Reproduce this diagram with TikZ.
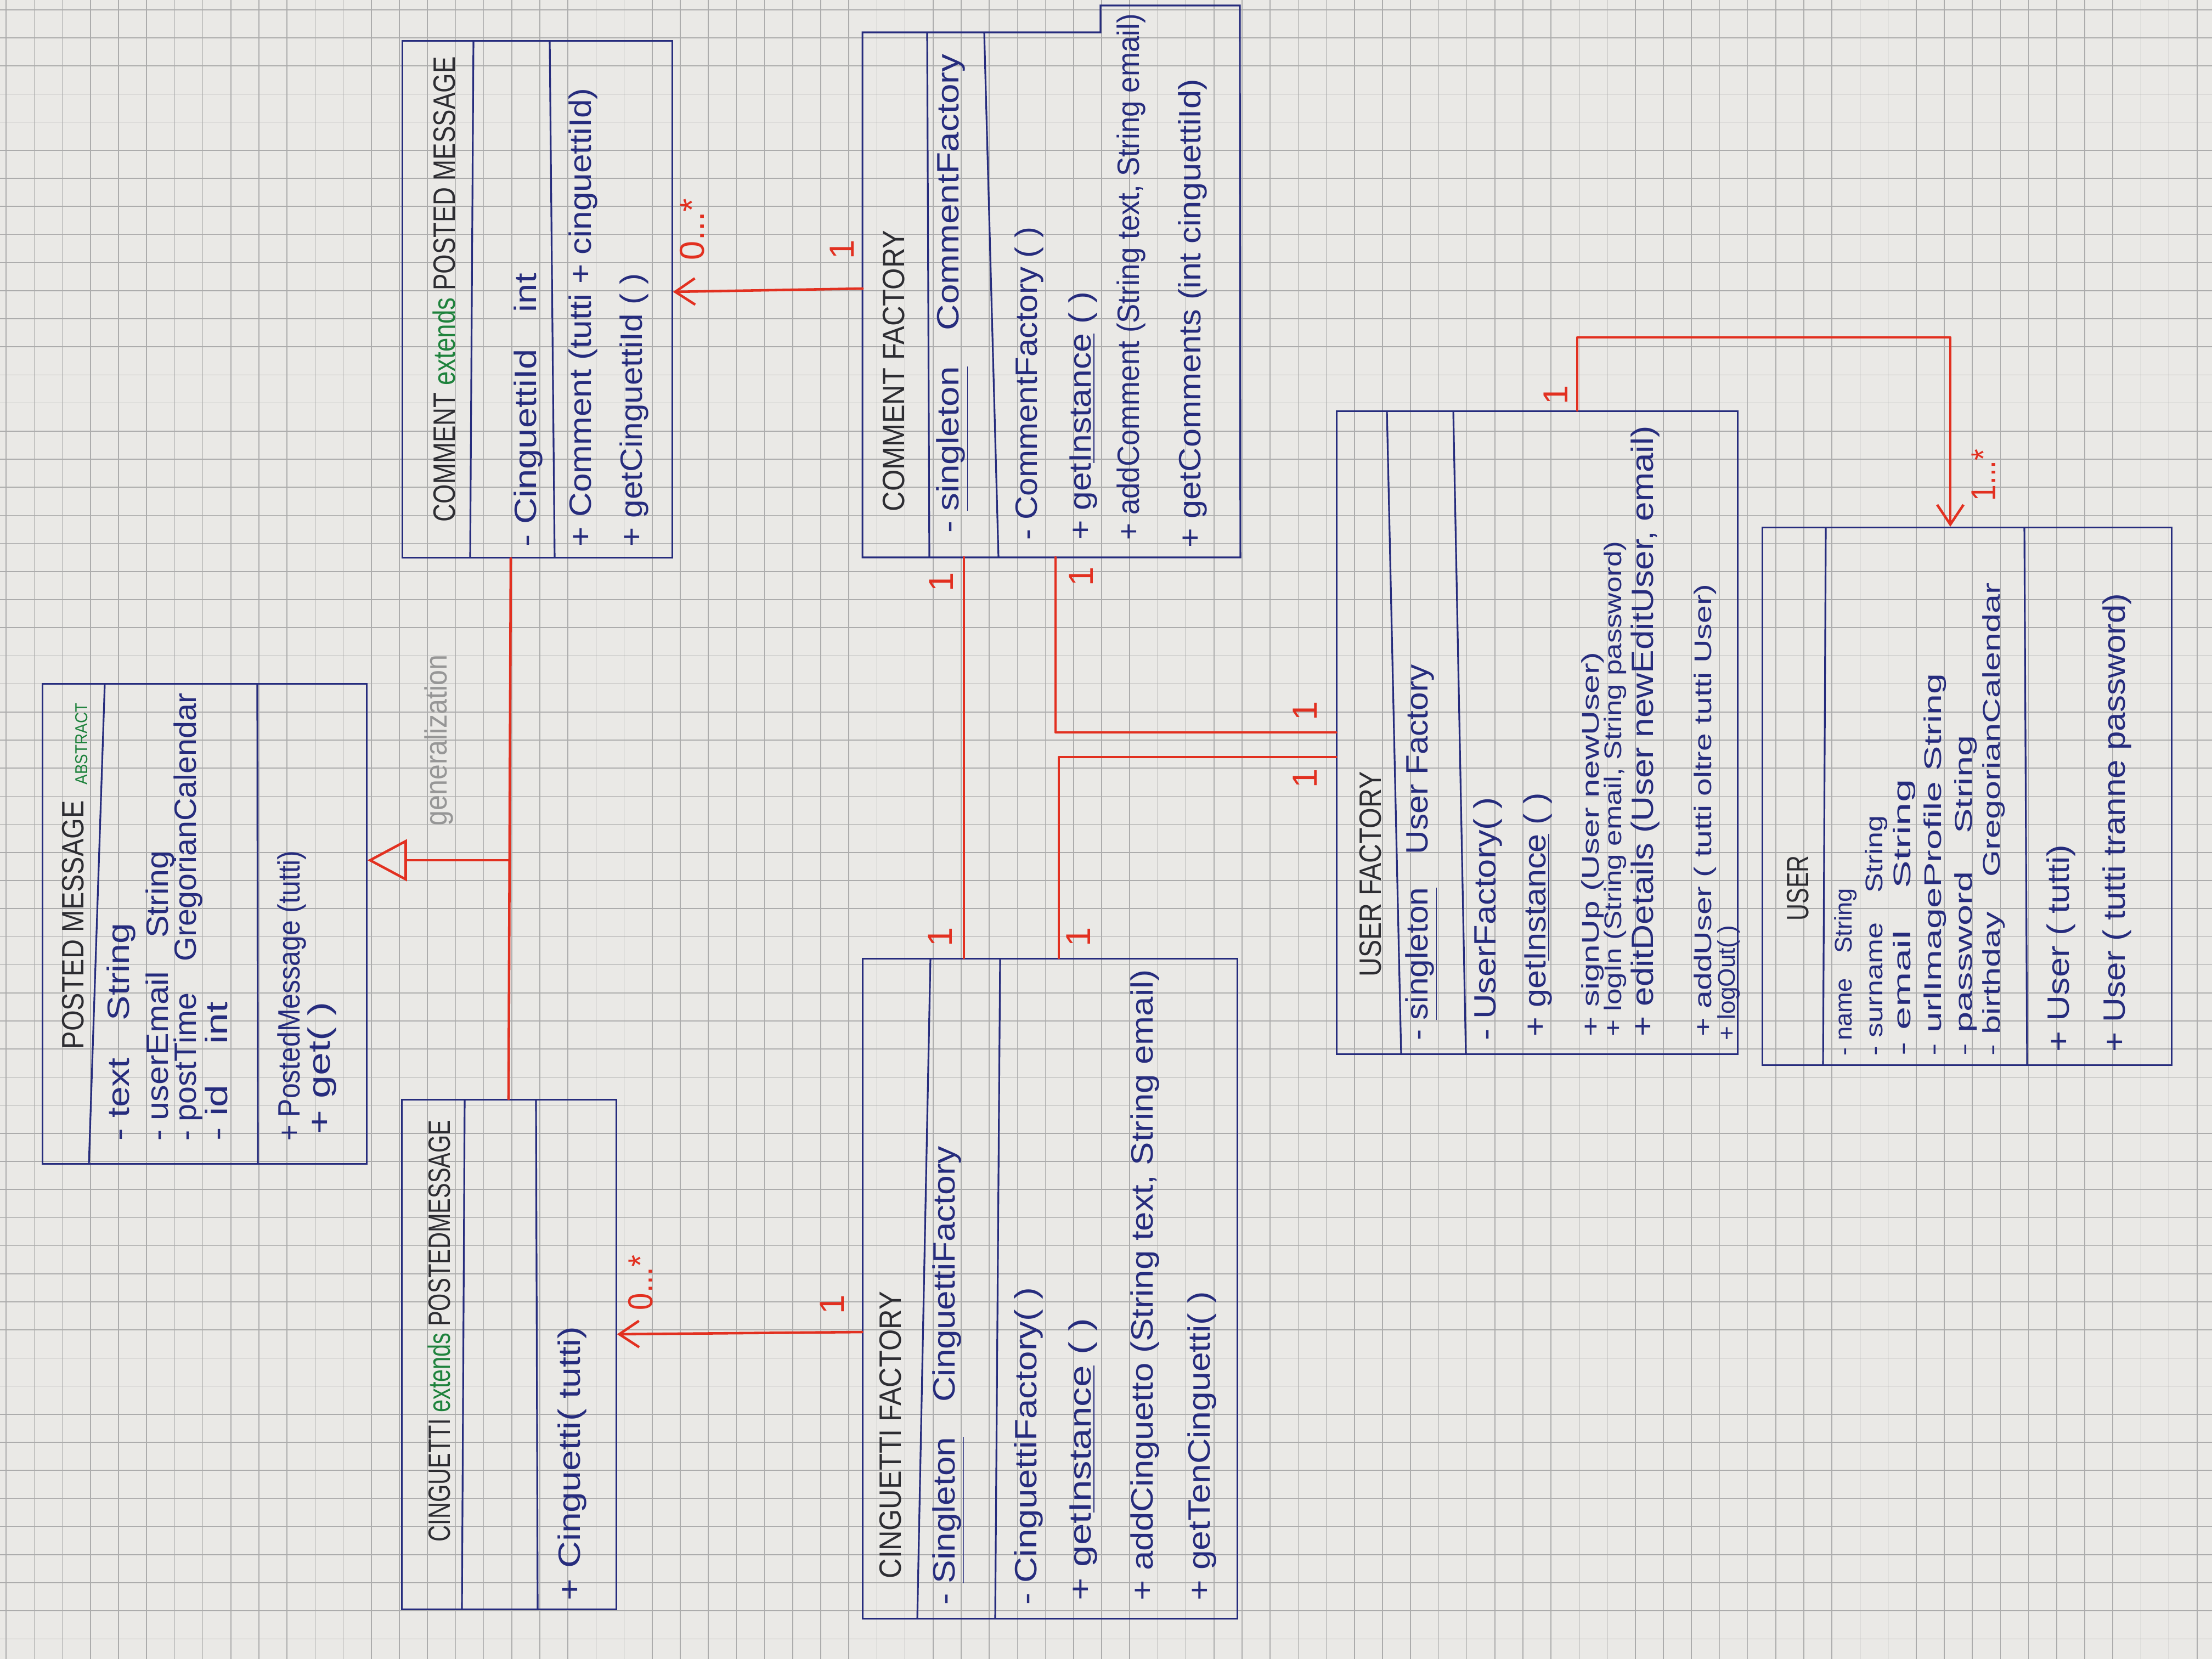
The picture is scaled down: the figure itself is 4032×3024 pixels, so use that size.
\documentclass[tikz,border=0pt]{standalone}
\usepackage{fontspec}
\setmainfont{Liberation Sans}
\usepackage{graphicx}
\usetikzlibrary{arrows.meta,calc}

\definecolor{paper}{RGB}{234,233,230}
\definecolor{gridc}{RGB}{172,172,172}
\definecolor{ink}{RGB}{38,44,125}
\definecolor{pen}{RGB}{45,45,50}
\definecolor{grn}{RGB}{30,130,60}
\definecolor{rd}{RGB}{226,48,32}
\definecolor{pencil}{RGB}{150,150,150}

% one drawing unit = 0.01cm; texts are stretched to a given length
\newlength\pxu \setlength\pxu{0.01cm}
\newcommand{\hw}[2]{\resizebox{#1\pxu}{\height}{#2}}

\tikzset{
  gridline/.style={draw=gridc, line width=0.45pt},
  classbox/.style={draw=ink, line width=0.9pt, inner sep=0pt, rectangle},
  divider/.style={draw=ink, line width=0.9pt},
  rl/.style={draw=rd, line width=1.3pt, line cap=round, line join=round},
  tx/.style={rotate=90, anchor=west, inner sep=0pt, text=ink, font=\fontsize{16}{18}\selectfont},
  txs/.style={tx, font=\fontsize{12.5}{14}\selectfont},
  hd/.style={rotate=90, anchor=west, inner sep=0pt, text=pen, font=\fontsize{16}{18}\selectfont},
  ml/.style={rotate=90, inner sep=0pt, text=rd, font=\fontsize{18}{20}\selectfont},
  barb/.style={-{Straight Barb[length=3.6mm,width=4.8mm]}},
}

\begin{document}
\begin{tikzpicture}[x=0.01cm, y=-0.01cm]
\useasboundingbox (0,0) rectangle (4032,3024);
\fill[paper] (0,0) rectangle (4032,3024);

% squared paper
\begin{scope}
\clip (0,0) rectangle (4032,3024);
\foreach \i in {0,...,79} \draw[gridline] ({11.2+51.2*\i},0) -- ({11.2+51.2*\i},3024);
\foreach \j in {0,...,59} \draw[gridline] (0,{17.8+51.2*\j}) -- (4032,{17.8+51.2*\j});
\end{scope}

% ---------- class boxes ----------
\node[classbox, minimum width=5.90cm, minimum height=8.74cm] (pm) at (373,1684) {};
\node[classbox, minimum width=3.90cm, minimum height=9.28cm] (cin) at (928,2469) {};
\node[classbox, minimum width=4.91cm, minimum height=9.41cm] (com) at (979.5,545.5) {};
\node[rectangle, inner sep=0pt, minimum width=6.87cm, minimum height=9.55cm] (cf) at (1916.5,537.5) {};
\node[classbox, minimum width=6.82cm, minimum height=12.02cm] (cgf) at (1914,2349) {};
\node[classbox, minimum width=7.30cm, minimum height=11.71cm] (uf) at (2802,1335.5) {};
\node[classbox, minimum width=7.45cm, minimum height=9.79cm] (user) at (3585.5,1451.5) {};

% comment factory outline, raised over its last column
\draw[divider] (cf.north west) -- (cf.north -| 2006,0) -- (2006,10) -- (2260,10)
  -- (cf.south east) -- (cf.south west) -- cycle;

% compartments
\draw[divider] (pm.north -| 191,0) -- (pm.south -| 162,0);
\draw[divider] (pm.north -| 469,0) -- (pm.south -| 470,0);
\draw[divider] (cin.north -| 847,0) -- (cin.south -| 842,0);
\draw[divider] (cin.north -| 977,0) -- (cin.south -| 980,0);
\draw[divider] (com.north -| 863,0) -- (com.south -| 857,0);
\draw[divider] (com.north -| 1002,0) -- (com.south -| 1011,0);
\draw[divider] (cf.north -| 1690,0) -- (cf.south -| 1694,0);
\draw[divider] (cf.north -| 1794,0) -- (cf.south -| 1820,0);
\draw[divider] (cgf.north -| 1696,0) -- (cgf.south -| 1672,0);
\draw[divider] (cgf.north -| 1823,0) -- (cgf.south -| 1814,0);
\draw[divider] (uf.north -| 2528,0) -- (uf.south -| 2554,0);
\draw[divider] (uf.north -| 2649,0) -- (uf.south -| 2672,0);
\draw[divider] (user.north -| 3328,0) -- (user.south -| 3323,0);
\draw[divider] (user.north -| 3690,0) -- (user.south -| 3695,0);

% ---------- PostedMessage ----------
\node[hd] (pmT) at (133,1913) {\hw{453}{POSTED MESSAGE}};
\node[hd, text=grn, font=\fontsize{9}{10}\selectfont] (pmAb) at (149,1431) {\hw{149}{ABSTRACT}};
\node[tx] (pmA1) at (221,2080) {\hw{397}{- text\quad String}};
\node[tx] (pmA2) at (292,2080) {\hw{529}{- userEmail\quad String}};
\node[tx] (pmA3) at (343,2080) {\hw{816}{- postTime\quad GregorianCalendar}};
\node[tx] (pmA4) at (394,2080) {\hw{253}{- id\quad int}};
\node[tx] (pmM1) at (532,2080) {\hw{529}{+ PostedMessage (tutti)}};
\node[tx] (pmM2) at (587,2068) {\hw{241}{+ get( )}};

% ---------- Cinguetti ----------
\node[hd] (cinT) at (800,2811) {\hw{769}{CINGUETTI \textcolor{grn}{extends} POSTEDMESSAGE}};
\node[tx] (cinM1) at (1043,2918) {\hw{500}{+ Cinguetti( tutti)}};

% ---------- Comment ----------
\node[hd] (comT) at (809,952) {\hw{848}{COMMENT \textcolor{grn}{extends} POSTED MESSAGE}};
\node[tx] (comA1) at (963,997) {\hw{498}{- CinguettiId\quad int}};
\node[tx] (comM1) at (1063,997) {\hw{836}{+ Comment (tutti + cinguettiId)}};
\node[tx] (comM2) at (1156,997) {\hw{498}{+ getCinguettiId ( )}};

% ---------- CommentFactory ----------
\node[hd] (cfT) at (1629,933) {\hw{513}{COMMENT FACTORY}};
\node[tx] (cfA1) at (1736,972) {\hw{873}{- \underline{singleton}\quad CommentFactory}};
\node[tx] (cfM1) at (1876,985) {\hw{571}{- CommentFactory ( )}};
\node[tx] (cfM2) at (1974,985) {\hw{453}{+ get\underline{Instance} ( )}};
\node[tx] (cfM3) at (2062,985) {\hw{959}{+ addComment (String text, String email)}};
\node[tx] (cfM4) at (2174,999) {\hw{854}{+ getComments (int cinguettiId)}};

% ---------- CinguettiFactory ----------
\node[hd] (cgfT) at (1623,2878) {\hw{523}{CINGUETTI FACTORY}};
\node[tx] (cgfA1) at (1729,2926) {\hw{836}{- \underline{Singleton}\quad CinguettiFactory}};
\node[tx] (cgfM1) at (1875,2926) {\hw{579}{- CinguettiFactory( )}};
\node[tx] (cgfM2) at (1974,2918) {\hw{515}{+ get\underline{Instance} ( )}};
\node[tx] (cgfM3) at (2087,2918) {\hw{1150}{+ addCinguetto (String text, String email)}};
\node[tx] (cgfM4) at (2191,2918) {\hw{563}{+ getTenCinguetti( )}};

% ---------- UserFactory ----------
\node[hd] (ufT) at (2498,1781) {\hw{374}{USER FACTORY}};
\node[tx] (ufA1) at (2591,1897) {\hw{685}{- \underline{singleton}\quad User Factory}};
\node[tx] (ufM1) at (2712,1897) {\hw{443}{- UserFactory( )}};
\node[tx] (ufM2) at (2803,1890) {\hw{444}{+ get\underline{Instance} ( )}};
\node[txs] (ufM3) at (2903,1890) {\hw{701}{+ signUp (User newUser)}};
\node[txs] (ufM4) at (2944,1890) {\hw{903}{+ logIn (String email, String password)}};
\node[tx] (ufM5) at (2999,1890) {\hw{1113}{+ editDetails (User newEditUser, email)}};
\node[txs] (ufM6) at (3108,1890) {\hw{825}{+ addUser ( tutti oltre tutti User)}};
\node[txs] (ufM7) at (3151,1897) {\hw{210}{+ logOut( )}};

% ---------- User ----------
\node[hd] (usT) at (3277,1679) {\hw{119}{USER}};
\node[txs] (usA1) at (3364,1925) {\hw{305}{- name\quad String}};
\node[txs] (usA2) at (3420,1925) {\hw{438}{- surname\quad String}};
\node[txs] (usA3) at (3471,1925) {\hw{504}{- email\quad String}};
\node[txs] (usA4) at (3527,1925) {\hw{697}{- urlImageProfile String}};
\node[txs] (usA5) at (3583,1925) {\hw{584}{- password\quad String}};
\node[txs] (usA6) at (3634,1925) {\hw{862}{- birthday\quad GregorianCalendar}};
\node[tx] (usM1) at (3757,1918) {\hw{378}{+ User ( tutti)}};
\node[tx] (usM2) at (3859,1918) {\hw{836}{+ User ( tutti tranne password)}};

% ---------- relations ----------
% generalization
\draw[rl] (com.south -| 931,0) -- (cin.north -| 927,0);
\coordinate (gj) at (929,1568);
\draw[rl, -{Triangle[open,length=7.2mm,width=7.6mm]}] (gj) -- (gj -| pm.east);
\node[tx, text=pencil] (genL) at (800,1506) {\hw{312}{generalization}};

% factories to products
\draw[rl, barb] (cf.west |- 0,526) -- (com.east |- 0,532);
\draw[rl, barb] (cgf.west |- 0,2428) -- (cin.east |- 0,2432);

% factories to each other and to the user factory
\draw[rl] (cf.south -| 1757,0) -- (cgf.north -| 1757,0);
\draw[rl] (cf.south -| 1924,0) |- (uf.west |- 0,1335);
\draw[rl] (cgf.north -| 1930,0) |- (uf.west |- 0,1380);

% user factory to users
\draw[rl, barb] (uf.north -| 2875,0) -- ++(0,-133) -| (user.north -| 3555,0);

% multiplicities
\node[ml] (m1) at (1535,455) {1};
\node[ml] (m2) at (1262,418) {\hw{112}{0...*}};
\node[ml] (m3) at (1517,2378) {1};
\node[ml] (m4) at (1168,2338) {\hw{100}{0...*}};
\node[ml] (m5) at (1716,1061) {1};
\node[ml] (m6) at (1714,1708) {1};
\node[ml] (m7) at (1971,1051) {1};
\node[ml] (m8) at (2379,1296) {1};
\node[ml] (m9) at (1966,1708) {1};
\node[ml] (m10) at (2379,1419) {1};
\node[ml] (m11) at (2836,720) {1};
\node[ml] (m12) at (3616,866) {\hw{95}{1...*}};
\end{tikzpicture}
\end{document}
